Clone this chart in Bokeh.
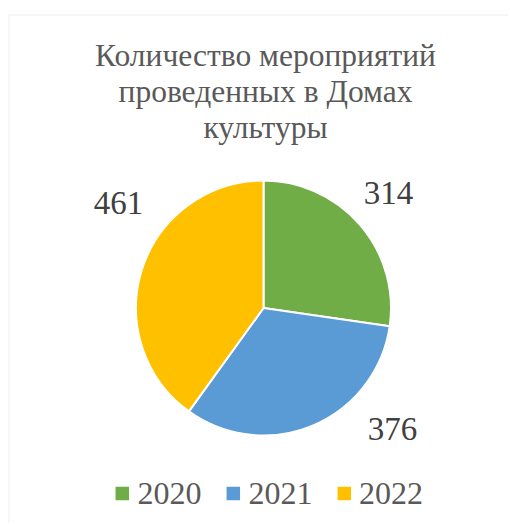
import math
from bokeh.plotting import figure
from bokeh.models import Range1d, ColumnDataSource, BoxAnnotation
from bokeh.core.properties import value
from bokeh.embed import file_html
from bokeh.resources import INLINE

# ---- data ----
title_lines = ["Количество мероприятий", "проведенных в Домах", "культуры"]
categories = ["2020", "2021", "2022"]
values = [314, 376, 461]
colors = ["#70AD47", "#5B9BD5", "#FFC000"]

# ---- layout (page pixels, measured from the top-left corner) ----
W, H = 508, 523
cx, cy, radius = 263, 307.5, 127.5
title_x = 265
title_mid = [54.5, 90.5, 126.5]
label_pos = [(388, 192), (392, 428), (118, 202)]
legend_sq_x = [121.8, 232.8, 343.8]
legend_txt_x = [137, 248, 358.5]
legend_y = 493

FONT = "Liberation Serif"


def Y(y):
    return H - y


p = figure(width=W, height=H, x_range=Range1d(0, W), y_range=Range1d(0, H),
           output_backend="svg", toolbar_location=None, min_border=0,
           x_axis_location=None, y_axis_location=None)
p.grid.visible = False
p.outline_line_color = None
p.background_fill_color = "white"
p.border_fill_color = "white"

# chart border (left and top edges visible)
p.add_layout(BoxAnnotation(left=8.5, right=W + 20, top=Y(14.5), bottom=-20,
                           fill_alpha=0, line_color="#D9D9D9", line_width=1.5))

# wedges
total = sum(values)
starts, ends = [], []
cum = 0
for v in values:
    starts.append(math.pi / 2 - 2 * math.pi * cum / total)
    cum += v
    ends.append(math.pi / 2 - 2 * math.pi * cum / total)

src = ColumnDataSource(dict(start=starts, end=ends, color=colors, cat=categories, val=values))
p.wedge(x=cx, y=Y(cy), radius=radius, radius_units="screen", start_angle="start", end_angle="end",
        direction="clock", fill_color="color", line_color="white", line_width=2, source=src)

# title
p.text(x=[title_x] * len(title_lines), y=[Y(t) for t in title_mid], text=title_lines,
       text_font=value(FONT), text_font_size="31.5px", text_color="#595959",
       text_align="center", text_baseline="middle")

# data labels
p.text(x=[lp[0] for lp in label_pos], y=[Y(lp[1]) for lp in label_pos], text=[str(v) for v in values],
       text_font=value(FONT), text_font_size="33px", text_color="#404040",
       text_align="center", text_baseline="middle")

# legend
p.scatter(x=legend_sq_x, y=[Y(legend_y)] * 3, marker="square", size=13.5,
          fill_color=colors, line_color=None)
p.text(x=legend_txt_x, y=[Y(legend_y)] * 3, text=categories,
       text_font=value(FONT), text_font_size="32px", text_color="#595959",
       text_align="left", text_baseline="middle")

open("out.html", "w").write(file_html(p, INLINE))
